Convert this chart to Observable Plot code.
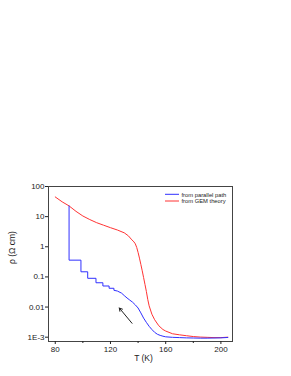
<!DOCTYPE html>
<html><head><meta charset="utf-8">
<script src="https://cdn.jsdelivr.net/npm/d3@7"></script>
<script src="https://cdn.jsdelivr.net/npm/@observablehq/plot@0.6"></script>
<style>body{margin:0;background:#fff}svg{font-family:"Liberation Sans",Arial,sans-serif}</style>
</head><body><div id="chart"></div>
<script>
// GEM theory curve (red)
const gemT   = [80, 85, 90, 95, 100, 105, 110, 115, 120, 125, 130, 133, 135, 137, 138, 139, 140, 141, 142, 143, 144, 145, 146, 147, 148, 150, 152, 155, 158, 160, 165, 170, 175, 180, 185, 190, 195, 200, 205];
const gemRho = [45, 31, 22.7, 15, 10.5, 8, 6.3, 5.2, 4.3, 3.6, 2.9, 2.3, 1.8, 1.45, 1.25, 0.95, 0.65, 0.42, 0.26, 0.16, 0.095, 0.056, 0.033, 0.018, 0.011, 0.0058, 0.0038, 0.0024, 0.0018, 0.0016, 0.0013, 0.0012, 0.00112, 0.00105, 0.00101, 0.00099, 0.00097, 0.00097, 0.001];
// parallel path curve (blue, stepped)
const parT   = [90, 90, 98.6, 98.6, 103.5, 103.5, 109.5, 109.5, 114.5, 114.5, 119, 119, 122.5, 122.5, 125, 128, 130, 132, 134, 136, 138, 140, 142, 144, 146, 148, 150, 152, 154, 156, 158, 160, 165, 170, 175, 180, 185, 190, 195, 200, 205];
const parRho = [22.7, 0.36, 0.36, 0.148, 0.148, 0.09, 0.09, 0.064, 0.064, 0.05, 0.05, 0.042, 0.042, 0.036, 0.034, 0.029, 0.024, 0.02, 0.017, 0.0145, 0.0118, 0.0093, 0.0064, 0.0043, 0.0031, 0.0023, 0.0018, 0.00145, 0.00125, 0.00115, 0.00108, 0.00103, 0.00099, 0.00097, 0.00095, 0.00094, 0.00093, 0.00093, 0.00094, 0.00095, 0.00098];
// arrow (data coords)
const arrowFrom = {T: 135.6, rho: 0.0029};
const arrowTo   = {T: 126.4, rho: 0.0093};
// ticks
const xTicks = [80, 120, 160, 200];
const xMinor = [100, 140, 180];
const yTicks = [100, 10, 1, 0.1, 0.01, 0.001];
const yLabels = ["100", "10", "1", "0.1", "0.01", "1E-3"];
const seriesNames = ["from parallel path", "from GEM theory"];
const seriesColors = ["#3030ff", "#ff3333"];

const gem = gemT.map((t, i) => ({T: t, rho: gemRho[i]}));
const par = parT.map((t, i) => ({T: t, rho: parRho[i]}));

const legendMarks = seriesNames.map((n, i) =>
  Plot.text([n], {frameAnchor: "top-right", textAnchor: "start", lineAnchor: "middle",
    dx: -51, dy: 8.3 + i * 6.7, fontSize: 5.8, fill: "#222"}));

const chart = Plot.plot({
  width: 291, height: 376,
  marginTop: 186, marginBottom: 35, marginLeft: 48, marginRight: 59,
  style: {fontSize: "8px", fontFamily: "Liberation Sans, Arial, sans-serif", background: "#fff", color: "#222"},
  x: {domain: [75.1, 208.4], label: null},
  y: {type: "log", domain: [0.00072, 100], label: null},
  marks: [
    Plot.frame({stroke: "#444", strokeWidth: 1}),
    Plot.axisX({ticks: xTicks, tickSize: 3, tickPadding: 2, label: null}),
    Plot.axisX({ticks: xMinor, tickSize: 2, tickFormat: () => "", label: null}),
    Plot.axisY({ticks: yTicks, tickSize: 3, tickPadding: 1, label: null,
      tickFormat: d => yLabels[yTicks.findIndex(v => Math.abs(v - d) / d < 1e-6)]}),
    Plot.line(gem, {x: "T", y: "rho", stroke: seriesColors[1], strokeWidth: 1}),
    Plot.line(par, {x: "T", y: "rho", stroke: seriesColors[0], strokeWidth: 1}),
    Plot.arrow([{x1: arrowFrom.T, y1: arrowFrom.rho, x2: arrowTo.T, y2: arrowTo.rho}],
      {x1: "x1", y1: "y1", x2: "x2", y2: "y2", stroke: "#222", strokeWidth: 1, headLength: 5}),
    ...legendMarks,
    Plot.text(["ρ (Ω cm)"], {frameAnchor: "left", dx: -36, rotate: -90, fontSize: 8.5, fill: "#222"}),
    Plot.text(["T (K)"], {frameAnchor: "bottom", lineAnchor: "middle", dy: 17, dx: 3, fontSize: 8.5, fill: "#222"})
  ]
});
document.getElementById("chart").append(chart);

// legend swatches
const svg = d3.select(chart);
seriesColors.forEach((c, i) => {
  svg.append("line")
    .attr("x1", 165).attr("x2", 179)
    .attr("y1", 194.3 + i * 6.7).attr("y2", 194.3 + i * 6.7)
    .attr("stroke", c).attr("stroke-width", 1);
});
</script></body></html>
